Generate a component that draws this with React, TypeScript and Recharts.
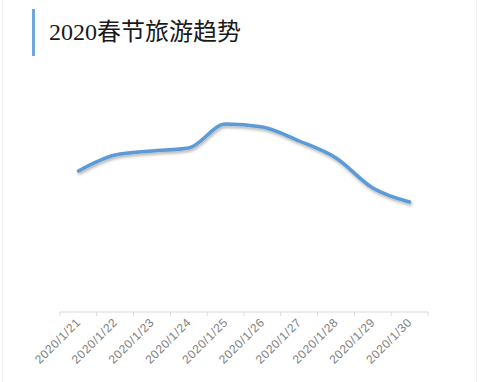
import { LineChart, Line, XAxis, YAxis } from "recharts";

const TITLE = "2020春节旅游趋势";

const dates = [
  "2020/1/21",
  "2020/1/22",
  "2020/1/23",
  "2020/1/24",
  "2020/1/25",
  "2020/1/26",
  "2020/1/27",
  "2020/1/28",
  "2020/1/29",
  "2020/1/30",
];

const visitors = [141, 157, 161, 164, 188, 185, 171, 154, 124, 110];

const data = dates.map((d, i) => ({ date: d, value: visitors[i] }));

const W = 479;
const H = 382;
const MARGIN = { top: 62, right: 51, bottom: 10, left: 60 };
const X_AXIS_HEIGHT = 60;
const BAND = (W - MARGIN.left - MARGIN.right) / dates.length;

const DateTick = ({ x, y, payload, index }: any) => {
  const axisY = y - 8;
  return (
    <g>
      <line x1={x - BAND / 2} y1={axisY} x2={x - BAND / 2} y2={axisY + 4} stroke="#d9d9d9" />
      {index === dates.length - 1 && (
        <line x1={x + BAND / 2} y1={axisY} x2={x + BAND / 2} y2={axisY + 4} stroke="#d9d9d9" />
      )}
      <text
        x={x + 3}
        y={y + 3}
        textAnchor="end"
        fill="#808080"
        fontSize={12}
        letterSpacing={0.6}
        fontFamily="'Liberation Sans', Arial, sans-serif"
        transform={`rotate(-45, ${x + 3}, ${y + 3})`}
      >
        {payload.value}
      </text>
    </g>
  );
};

export default function App() {
  return (
    <div
      style={{
        position: "absolute",
        left: 0,
        top: 0,
        width: W,
        height: H,
        background: "#fff",
        overflow: "hidden",
      }}
    >
      <div
        style={{
          position: "absolute",
          left: 2,
          top: 0,
          width: 473,
          height: H,
          borderLeft: "1px solid #efefef",
          borderRight: "1px solid #efefef",
        }}
      />
      <div
        style={{
          position: "absolute",
          left: 32,
          top: 9,
          width: 3,
          height: 47,
          background: "#6fa8dc",
        }}
      />
      <div
        style={{
          position: "absolute",
          left: 49,
          top: 17,
          fontSize: 24,
          lineHeight: "30px",
          color: "#1a1a1a",
          fontFamily: "'Liberation Serif', 'DejaVu Serif', 'Noto Sans CJK SC', serif",
          whiteSpace: "nowrap",
        }}
      >
        {TITLE}
      </div>
      <div style={{ position: "absolute", left: 0, top: 0 }}>
        <LineChart width={W} height={H} data={data} margin={MARGIN}>
          <defs>
            <filter id="lineShadow" x="-10%" y="-30%" width="120%" height="160%">
              <feDropShadow dx="1" dy="2" stdDeviation="1.5" floodColor="#000" floodOpacity="0.3" />
            </filter>
          </defs>
          <XAxis
            dataKey="date"
            scale="band"
            height={X_AXIS_HEIGHT}
            axisLine={{ stroke: "#d9d9d9" }}
            tickLine={false}
            tickSize={4}
            tickMargin={4}
            interval={0}
            tick={<DateTick />}
          />
          <YAxis hide domain={[0, 250]} />
          <Line
            type="monotone"
            dataKey="value"
            stroke="#5b9bd5"
            strokeWidth={3.5}
            dot={false}
            activeDot={false}
            strokeLinecap="round"
            filter="url(#lineShadow)"
            isAnimationActive={false}
          />
        </LineChart>
      </div>
    </div>
  );
}
